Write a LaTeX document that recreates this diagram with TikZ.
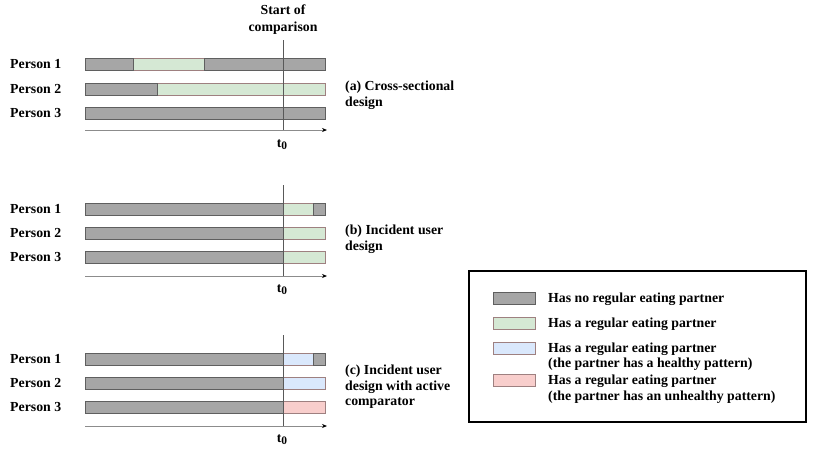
\documentclass[tikz,border=0pt]{standalone}
\usepackage{fontspec}
\setmainfont{Liberation Serif}
\usetikzlibrary{arrows.meta}
\definecolor{barGray}{HTML}{A6A6A6}
\definecolor{barGrayLine}{HTML}{5F5F5F}
\definecolor{partGreen}{HTML}{D5E8D4}
\definecolor{partBlue}{HTML}{DAE8FC}
\definecolor{partPink}{HTML}{F8CECC}
\definecolor{partLine}{HTML}{9E8080}
\definecolor{axisGray}{HTML}{8C8C8C}
\definecolor{tLine}{HTML}{595959}
\begin{document}
\begin{tikzpicture}[x=1pt,y=-1pt,
  every node/.style={font=\fontsize{13.8}{15.5}\selectfont\bfseries, inner sep=0pt},
  nopart/.style={fill=barGray, draw=barGrayLine, line width=0.8pt},
  grn/.style={fill=partGreen, draw=partLine, line width=0.8pt},
  blu/.style={fill=partBlue, draw=partLine, line width=0.8pt},
  pnk/.style={fill=partPink, draw=partLine, line width=0.8pt},
  timeaxis/.style={draw=axisGray, line width=0.8pt, -{Stealth[length=5pt,width=4pt,color=black]}},
  tzero/.style={draw=tLine, line width=0.8pt},
  person/.style={anchor=west},
  panel/.style={anchor=north west, align=left},
  legtext/.style={anchor=north west, align=left}]
\useasboundingbox (0,0) rectangle (831,448);

% ---------- panel (a)
\node[align=center, anchor=north] (start) at (283,4.5) {Start of\\[1.5pt]comparison};
\node[person] (pa1) at (10,64) {Person 1};
\node[person] (pa2) at (10,89) {Person 2};
\node[person] (pa3) at (10,113) {Person 3};
\draw[grn] (133,58) rectangle (204,70);
\draw[nopart] (85,58) rectangle (133,70);
\draw[nopart] (204,58) rectangle (325,70);
\draw[grn] (157,83) rectangle (325,95);
\draw[nopart] (85,83) rectangle (157,95);
\draw[nopart] (85,107) rectangle (325,119);
\coordinate (axa0) at (85,130);
\coordinate (axa1) at (327,130);
\draw[timeaxis] (axa0) -- (axa1);
\coordinate (ta0) at (283,40);
\coordinate (ta1) at (283,130);
\draw[tzero] (ta0) -- (ta1);
\node (ta) at (282,145) {t\raisebox{-0.35ex}{\fontsize{11.5}{11.5}\selectfont 0}};
\node[panel] (la) at (345,81) {(a) Cross-sectional\\design};

% ---------- panel (b)
\node[person] (pb1) at (10,209) {Person 1};
\node[person] (pb2) at (10,233) {Person 2};
\node[person] (pb3) at (10,257) {Person 3};
\draw[grn] (283,203) rectangle (313,215);
\draw[nopart] (85,203) rectangle (283,215);
\draw[nopart] (313,203) rectangle (325,215);
\draw[grn] (283,227) rectangle (325,239);
\draw[nopart] (85,227) rectangle (283,239);
\draw[grn] (283,251) rectangle (325,263);
\draw[nopart] (85,251) rectangle (283,263);
\coordinate (axb0) at (85,276);
\coordinate (axb1) at (327,276);
\draw[timeaxis] (axb0) -- (axb1);
\coordinate (tb0) at (283,185);
\coordinate (tb1) at (283,276);
\draw[tzero] (tb0) -- (tb1);
\node (tb) at (282,290) {t\raisebox{-0.35ex}{\fontsize{11.5}{11.5}\selectfont 0}};
\node[panel] (lb) at (345,225) {(b) Incident user\\design};

% ---------- panel (c)
\node[person] (pc1) at (10,359) {Person 1};
\node[person] (pc2) at (10,383) {Person 2};
\node[person] (pc3) at (10,407) {Person 3};
\draw[blu] (283,353) rectangle (313,365);
\draw[nopart] (85,353) rectangle (283,365);
\draw[nopart] (313,353) rectangle (325,365);
\draw[blu] (283,377) rectangle (325,389);
\draw[nopart] (85,377) rectangle (283,389);
\draw[pnk] (283,401) rectangle (325,413);
\draw[nopart] (85,401) rectangle (283,413);
\coordinate (axc0) at (85,426);
\coordinate (axc1) at (327,426);
\draw[timeaxis] (axc0) -- (axc1);
\coordinate (tc0) at (283,335);
\coordinate (tc1) at (283,426);
\draw[tzero] (tc0) -- (tc1);
\node (tc) at (282,440) {t\raisebox{-0.35ex}{\fontsize{11.5}{11.5}\selectfont 0}};
\node[panel] (lc) at (345,365) {(c) Incident user\\design with active\\comparator};

% ---------- legend
\draw[line width=1.5pt] (469,271) rectangle (806,422);
\draw[nopart] (493,292) rectangle (535,304);
\draw[grn] (493,317) rectangle (535,329);
\draw[blu] (493,342) rectangle (535,354);
\draw[pnk] (493,374) rectangle (535,386);
\node[legtext] (k1) at (548,293) {Has no regular eating partner};
\node[legtext] (k2) at (548,318) {Has a regular eating partner};
\node[legtext] (k3) at (548,342.5) {Has a regular eating partner\\(the partner has a healthy pattern)};
\node[legtext] (k4) at (548,375) {Has a regular eating partner\\(the partner has an unhealthy pattern)};
\end{tikzpicture}
\end{document}
